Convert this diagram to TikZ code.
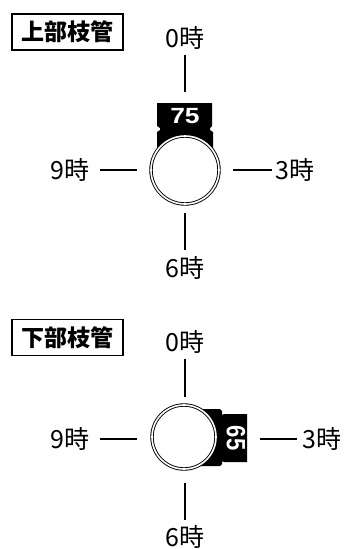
\documentclass[tikz,border=0pt]{standalone}
\usepackage{fontspec}
\setmainfont{Noto Sans CJK JP}
\newfontfamily\numfont{Liberation Sans}
\usetikzlibrary{positioning}

\begin{document}
\begin{tikzpicture}[x=1pt,y=-1pt,thick,
  hour/.style={font=\fontsize{25}{25}\selectfont,inner sep=0pt},
  title/.style={draw,line width=1.6pt,font=\fontsize{23}{23}\selectfont\bfseries,minimum width=111pt,minimum height=36pt,inner sep=0pt},
  tick/.style={line width=2pt},
  pipe/.style={circle,draw,double,line width=0.9pt,double distance=1.6pt,fill=white,inner sep=0pt},
  size/.style={text=white,font=\numfont\fontsize{22}{22}\selectfont\bfseries,inner sep=0pt,xscale=1.2}]

    \useasboundingbox (0,0) rectangle (345,549);

    % Upper branch
	\node [title] at (67.5,32) (TA) {上部枝管};
	\node [hour] at (185,38) (A0) {0時};
	\node [hour] at (70,170) (A9) {9時};
	\node [hour] at (295,170) (A3) {3時};
	\node [hour] at (185,268) (A6) {6時};
	\fill (157,103) -- (212,103) -- (212,126) -- (210,128) -- (210,130) -- (213,132)
	  -- (213,160) -- (157,160) -- (157,132) -- (160,130) -- (160,128) -- (157,126) -- cycle;
	\node [pipe,minimum size=68pt] at (185,170) (PA) {};
	\node [size] at (185,116) (SA) {75};

	\coordinate (a0) at (185,55);  \coordinate (a0') at (185,92);
	\coordinate (a9) at (100,170); \coordinate (a9') at (137,170);
	\coordinate (a3) at (233,170); \coordinate (a3') at (272,170);
	\coordinate (a6) at (185,213); \coordinate (a6') at (185,250);
	\path[tick]
	(a0) edge (a0')
	(a9) edge (a9')
	(a3) edge (a3')
	(a6) edge (a6');

    % Lower branch
	\node [title] at (67.5,337.5) (TB) {下部枝管};
	\node [hour] at (185,342) (B0) {0時};
	\node [hour] at (70,439) (B9) {9時};
	\node [hour] at (322,439) (B3) {3時};
	\node [hour] at (185,537) (B6) {6時};
	\fill (190,409) -- (220,409) -- (222,411) -- (222,415) -- (224,414) -- (247,414)
	  -- (247,462) -- (224,462) -- (222,461) -- (222,464) -- (220,466) -- (190,466) -- cycle;
	\node [pipe,minimum size=64pt] at (184,437) (PB) {};
	\node [size,rotate=-90] at (236,438) (SB) {65};

	\coordinate (b0) at (185,359); \coordinate (b0') at (185,397);
	\coordinate (b9) at (100,439); \coordinate (b9') at (137,439);
	\coordinate (b3) at (260,439); \coordinate (b3') at (297,439);
	\coordinate (b6) at (185,483); \coordinate (b6') at (185,520);
	\path[tick]
	(b0) edge (b0')
	(b9) edge (b9')
	(b3) edge (b3')
	(b6) edge (b6');

\end{tikzpicture}
\end{document}
